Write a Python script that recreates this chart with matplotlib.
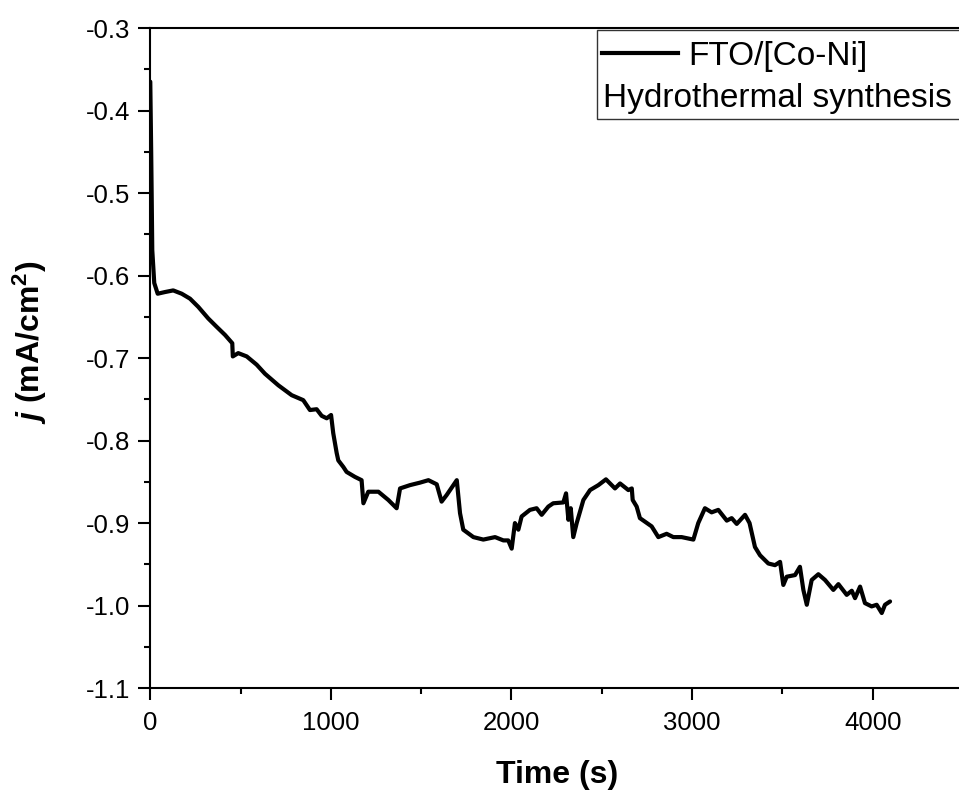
import matplotlib
matplotlib.use("Agg")
import matplotlib.pyplot as plt
from matplotlib.ticker import MultipleLocator, FormatStrFormatter
from matplotlib.lines import Line2D
from matplotlib.patches import Rectangle

plt.rcParams['font.family'] = 'Liberation Sans'
plt.rcParams['axes.unicode_minus'] = False
plt.rcParams['mathtext.fontset'] = 'custom'
plt.rcParams['mathtext.rm'] = 'Liberation Sans:bold'
plt.rcParams['mathtext.it'] = 'Liberation Sans:italic:bold'
plt.rcParams['mathtext.bf'] = 'Liberation Sans:bold'

# chronoamperometry trace
time_s = [0, 5, 8, 11, 22, 41, 81, 127, 174, 220, 266, 321, 367, 414, 454, 457,
          487, 534, 589, 635, 709, 783, 847, 884, 921, 949, 977, 1001, 1013, 1032,
          1041, 1069, 1087, 1133, 1170, 1180, 1207, 1263, 1318, 1364, 1383, 1438,
          1493, 1540, 1586, 1613, 1641, 1697, 1715, 1733, 1789, 1844, 1909, 1955,
          1982, 2001, 2019, 2038, 2056, 2102, 2139, 2167, 2204, 2231, 2287, 2302,
          2315, 2328, 2342, 2361, 2398, 2435, 2481, 2523, 2573, 2601, 2647, 2666,
          2671, 2693, 2711, 2776, 2813, 2859, 2896, 2942, 3007, 3034, 3071, 3108,
          3145, 3192, 3219, 3247, 3293, 3318, 3348, 3376, 3422, 3459, 3487, 3505,
          3524, 3570, 3597, 3616, 3635, 3662, 3699, 3736, 3782, 3810, 3856, 3884,
          3902, 3930, 3957, 3994, 4022, 4050, 4068, 4096]
current = [-0.365, -0.45, -0.508, -0.569, -0.609, -0.622, -0.620, -0.618, -0.622,
           -0.628, -0.638, -0.652, -0.662, -0.672, -0.682, -0.698, -0.694, -0.698,
           -0.708, -0.719, -0.733, -0.745, -0.751, -0.763, -0.762, -0.770, -0.773,
           -0.769, -0.791, -0.815, -0.824, -0.832, -0.838, -0.844, -0.848, -0.876,
           -0.862, -0.862, -0.872, -0.882, -0.858, -0.854, -0.851, -0.848, -0.853,
           -0.874, -0.866, -0.848, -0.888, -0.908, -0.917, -0.920, -0.917, -0.921,
           -0.921, -0.931, -0.900, -0.908, -0.892, -0.884, -0.882, -0.890, -0.880,
           -0.876, -0.875, -0.864, -0.896, -0.882, -0.917, -0.900, -0.872, -0.860,
           -0.854, -0.847, -0.858, -0.852, -0.860, -0.858, -0.872, -0.880, -0.894,
           -0.904, -0.917, -0.913, -0.917, -0.917, -0.920, -0.900, -0.882, -0.887,
           -0.884, -0.897, -0.894, -0.901, -0.890, -0.900, -0.929, -0.939, -0.949,
           -0.951, -0.947, -0.975, -0.965, -0.963, -0.953, -0.981, -0.999, -0.969,
           -0.962, -0.969, -0.981, -0.974, -0.987, -0.982, -0.991, -0.977, -0.997,
           -1.001, -0.999, -1.009, -0.999, -0.995]

x_ticks = [0, 1000, 2000, 3000, 4000]
y_ticks = [-0.3, -0.4, -0.5, -0.6, -0.7, -0.8, -0.9, -1.0, -1.1]

fig = plt.figure(figsize=(9.59, 7.90), dpi=100)
ax = fig.add_axes([0.1567, 0.129, 0.8475, 0.8355])

ax.plot(time_s, current, color='black', linewidth=3.0,
        solid_joinstyle='round', solid_capstyle='round')

ax.set_xlim(0, 4500)
ax.set_ylim(-1.1, -0.3)
ax.set_xticks(x_ticks)
ax.set_yticks(y_ticks)
ax.xaxis.set_minor_locator(MultipleLocator(500))
ax.yaxis.set_minor_locator(MultipleLocator(0.05))
ax.yaxis.set_major_formatter(FormatStrFormatter('%.1f'))

for side in ['left', 'bottom', 'top', 'right']:
    ax.spines[side].set_linewidth(1.5)
ax.tick_params(which='major', direction='out', length=8.5, width=1.5, labelsize=18.5,
               top=False, right=False)
ax.tick_params(axis='x', which='major', pad=8)
ax.tick_params(axis='y', which='major', pad=6)
ax.tick_params(which='minor', direction='out', length=4.5, width=1.5, top=False, right=False)

ax.set_xlabel('Time (s)', fontsize=23, fontweight='bold', labelpad=18)
ax.set_ylabel(r'$\it{j}$ (mA/cm$^\mathbf{2}$)', fontsize=23, fontweight='bold')
ax.yaxis.set_label_coords(-0.125, 0.524)

# legend box drawn by hand: Origin-style two-line label
ax.add_patch(Rectangle((0.5497, 0.862), 0.5, 0.135, transform=ax.transAxes,
                       facecolor='white', edgecolor='#333333', linewidth=1.0, zorder=5,
                       clip_on=False))
ax.add_line(Line2D([0.5558, 0.6492], [0.962, 0.962], transform=ax.transAxes,
                   color='black', linewidth=3.0, zorder=6))
ax.text(0.6617, 0.944, 'FTO/[Co-Ni]', transform=ax.transAxes, fontsize=24,
        va='baseline', ha='left', zorder=6)
ax.text(0.5570, 0.880, 'Hydrothermal synthesis', transform=ax.transAxes, fontsize=24,
        va='baseline', ha='left', zorder=6)

fig.savefig('out.png', dpi=100)
